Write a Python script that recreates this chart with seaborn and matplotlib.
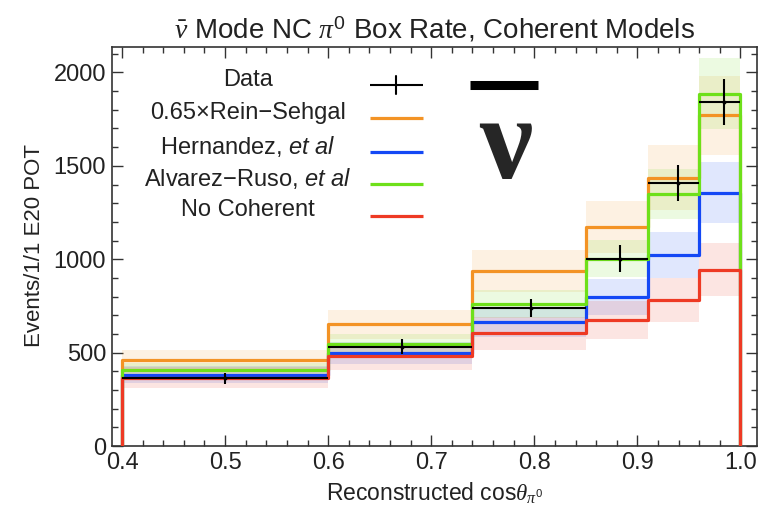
import numpy as np
import matplotlib
matplotlib.use("Agg")
import matplotlib.pyplot as plt
from matplotlib.ticker import MultipleLocator
import seaborn as sns

# Bin edges of reconstructed cos(theta_pi0)
edges = [0.40, 0.60, 0.74, 0.85, 0.91, 0.96, 1.00]

# Measured box rate with uncertainties
data_x = [0.500, 0.672, 0.797, 0.883, 0.939, 0.984]
data_y = [364, 531, 740, 1003, 1408, 1841]
data_err = [30, 40, 47, 71, 94, 122]

# Predictions per bin for each coherent model
rein_sehgal = [460, 652, 936, 1173, 1437, 1770]
hernandez = [382, 499, 665, 798, 1021, 1357]
alvarez_ruso = [406, 545, 759, 1003, 1348, 1886]
no_coherent = [366, 481, 603, 674, 781, 945]

# Fractional systematic band for each prediction
frac_rein = 0.12
frac_hern = 0.12
frac_alv = 0.10
frac_nocoh = 0.15

model_labels = ["0.65\u00d7Rein\u2212Sehgal", "Hernandez, $\\mathsf{et\\ al}$",
                "Alvarez\u2212Ruso, $\\mathsf{et\\ al}$", "No Coherent"]

sns.set_theme(style="white")
plt.rcParams["font.family"] = ["Liberation Sans", "DejaVu Sans"]
plt.rcParams["mathtext.fontset"] = "custom"
plt.rcParams["mathtext.rm"] = "Liberation Sans"
plt.rcParams["mathtext.it"] = "Liberation Serif:italic"
plt.rcParams["mathtext.sf"] = "Liberation Sans:italic"

c_orange = "#f39325"
c_blue = "#1448f5"
c_green = "#6ee01a"
c_red = "#ee3a24"

fig = plt.figure(figsize=(7.6, 5.07), dpi=100)
ax = fig.add_axes([0.147, 0.120, 0.849, 0.787])

models = [
    (rein_sehgal, frac_rein, c_orange, 2),
    (hernandez, frac_hern, c_blue, 3),
    (alvarez_ruso, frac_alv, c_green, 4),
    (no_coherent, frac_nocoh, c_red, 5),
]

e = np.asarray(edges)
step_x = np.repeat(e, 2)
for vals, frac, col, z in models:
    v = np.asarray(vals, dtype=float)
    lo = np.append(v * (1 - frac), v[-1] * (1 - frac))
    hi = np.append(v * (1 + frac), v[-1] * (1 + frac))
    ax.fill_between(e, lo, hi, step="post", color=col, alpha=0.13, lw=0, zorder=1)

for vals, frac, col, z in models:
    v = np.asarray(vals, dtype=float)
    step_y = np.concatenate([[0.0], np.repeat(v, 2), [0.0]])
    sns.lineplot(x=step_x, y=step_y, estimator=None, sort=False, color=col,
                 linewidth=2.3, ax=ax, zorder=z)

# Data points with horizontal bars spanning each bin
dx = np.asarray(data_x)
xerr = [dx - e[:-1], e[1:] - dx]
ax.errorbar(dx, data_y, xerr=xerr, yerr=data_err, fmt="none", ecolor="black",
            elinewidth=1.5, capsize=0, zorder=6)
sns.scatterplot(x=dx, y=data_y, color="black", s=8, linewidth=0, ax=ax, zorder=7)

ax.set_xlim(0.39, 1.016)
ax.set_ylim(0, 2135)
ax.xaxis.set_major_locator(MultipleLocator(0.1))
ax.xaxis.set_minor_locator(MultipleLocator(0.02))
ax.yaxis.set_major_locator(MultipleLocator(500))
ax.yaxis.set_minor_locator(MultipleLocator(100))
ax.set_xticks([0.4, 0.5, 0.6, 0.7, 0.8, 0.9, 1.0])
ax.set_xticklabels(["0.4", "0.5", "0.6", "0.7", "0.8", "0.9", "1.0"])
ax.tick_params(which="both", direction="in", bottom=True, left=True, top=True, right=True,
               colors="#333333", labelcolor="#222222", labelsize=17, width=1.0)
ax.tick_params(which="major", length=8, pad=4)
ax.tick_params(which="minor", length=4.5)
ax.tick_params(axis="y", labelright=False)
ax.tick_params(axis="x", labeltop=False)
for sp in ax.spines.values():
    sp.set_color("#333333")
    sp.set_linewidth(1.2)
ax.set_xlabel("")
ax.set_ylabel("")

fig.text(0.572, 0.925, "$\\bar{\\nu}$ Mode NC $\\pi^0$ Box Rate, Coherent Models",
         ha="center", va="baseline", fontsize=20, color="#222222")
fig.text(0.572, 0.012, "Reconstructed cos$\\theta_{\\pi^0}$", ha="center", va="baseline",
         fontsize=16.5, color="#222222")
fig.text(0.045, 0.515, "Events/1/1 E20 POT", ha="center", va="center", rotation=90,
         fontsize=16, color="#222222")

# Legend drawn in axes coordinates: centred labels with line samples to the right
tr = ax.transAxes
rows_text = [0.917, 0.836, 0.750, 0.671, 0.592]
rows_line = [0.905, 0.823, 0.737, 0.657, 0.578]
leg_labels = ["Data"] + model_labels
leg_colors = ["black", c_orange, c_blue, c_green, c_red]
for i, (lab, col) in enumerate(zip(leg_labels, leg_colors)):
    ax.text(0.211, rows_text[i], lab, transform=tr, ha="center", va="center",
            fontsize=17, color="#222222")
    ax.plot([0.400, 0.482], [rows_line[i], rows_line[i]], transform=tr, color=col,
            lw=1.5 if i == 0 else 2.3, solid_capstyle="butt")
ax.plot([0.441, 0.441], [rows_line[0] - 0.022, rows_line[0] + 0.022], transform=tr,
        color="black", lw=1.5)

# Antineutrino symbol
ax.plot([0.555, 0.660], [0.905, 0.905], transform=tr, color="black", lw=6.5,
        solid_capstyle="butt")
ax.text(0.611, 0.672, "\u03bd", transform=tr, ha="center", va="baseline",
        fontsize=86, fontweight="bold", family=["Liberation Serif", "DejaVu Serif"])

fig.savefig("out.png", dpi=100)
